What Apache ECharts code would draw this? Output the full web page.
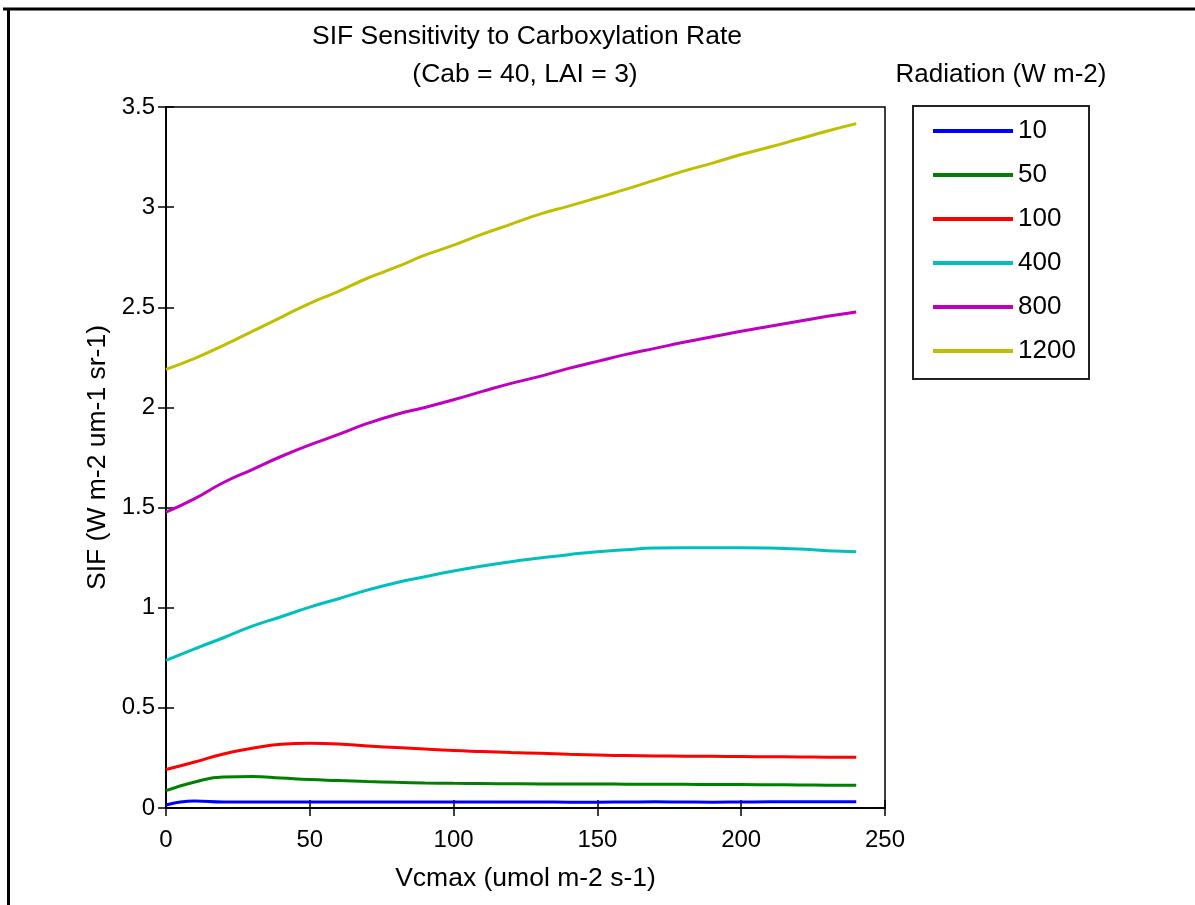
<!DOCTYPE html>
<html>
<head>
<meta charset="utf-8">
<script src="https://cdn.jsdelivr.net/npm/echarts@6/dist/echarts.min.js"></script>
<style>html,body{margin:0;padding:0;background:#fff;}#c{width:1195px;height:905px;}</style>
</head>
<body>
<div id="c"></div>
<script>
var vcmax = [0,10,20,30,40,50,60,70,80,90,100,110,120,130,140,150,160,170,180,190,200,210,220,230,240];
var rad10   = [0.015,0.035,0.03,0.03,0.03,0.03,0.03,0.03,0.03,0.03,0.03,0.03,0.03,0.03,0.029,0.029,0.03,0.031,0.03,0.029,0.03,0.031,0.031,0.031,0.031];
var rad50   = [0.087,0.13,0.155,0.157,0.15,0.142,0.137,0.132,0.128,0.125,0.123,0.122,0.121,0.12,0.12,0.12,0.119,0.118,0.118,0.117,0.117,0.116,0.115,0.114,0.113];
var rad100  = [0.192,0.23,0.27,0.298,0.318,0.323,0.32,0.31,0.302,0.294,0.287,0.282,0.277,0.273,0.268,0.264,0.262,0.26,0.259,0.258,0.257,0.256,0.255,0.254,0.253];
var rad400  = [0.737,0.795,0.85,0.908,0.955,1.003,1.045,1.088,1.125,1.155,1.183,1.208,1.23,1.248,1.265,1.28,1.29,1.298,1.3,1.3,1.3,1.298,1.293,1.285,1.28];
var rad800  = [1.477,1.545,1.625,1.69,1.755,1.813,1.865,1.92,1.965,2.0,2.038,2.08,2.12,2.155,2.195,2.23,2.265,2.295,2.325,2.353,2.38,2.405,2.43,2.455,2.477];
var rad1200 = [2.19,2.245,2.31,2.38,2.45,2.52,2.58,2.645,2.7,2.76,2.81,2.865,2.915,2.965,3.005,3.047,3.09,3.135,3.18,3.22,3.263,3.3,3.34,3.38,3.417];
var seriesNames = ['10','50','100','400','800','1200'];
var seriesData = [rad10, rad50, rad100, rad400, rad800, rad1200];
var colors = ['#0000ff','#008000','#ff0000','#00bfbf','#bf00bf','#bfbf00'];
var xTicks = {min:0, max:250, interval:50};
var yTicks = {min:0, max:3.5, interval:0.5};

var FONT = 'Liberation Sans';
var chart = echarts.init(document.getElementById('c'));
function pairs(d){ return vcmax.map(function(v,i){ return [v, d[i]]; }); }
var series = seriesNames.map(function(n,i){
  return {name:n, type:'line', data:pairs(seriesData[i]), showSymbol:false, smooth:true,
    lineStyle:{color:colors[i], width:3}, itemStyle:{color:colors[i]}, z:3};
});
var tickStyle = {show:true, inside:true, length:8, lineStyle:{color:'#000', width:1.5}};
var tStyle = {fontFamily:FONT, fontSize:26.5, fontWeight:'normal', color:'#000'};
chart.setOption({
  animation:false,
  backgroundColor:'#fff',
  color:colors,
  title:[
    {text:'SIF Sensitivity to Carboxylation Rate', left:522, top:18, textAlign:'center', textStyle:tStyle},
    {text:'(Cab = 40, LAI = 3)', left:520, top:56, textAlign:'center', textStyle:tStyle},
    {text:'Radiation (W m-2)', left:996, top:57, textAlign:'center', textStyle:{fontFamily:FONT, fontSize:26, fontWeight:'normal', color:'#000'}}
  ],
  legend:{
    orient:'vertical', left:928, top:113, itemWidth:80, itemHeight:4, itemGap:18,
    icon:'rect', data:seriesNames,
    textStyle:{fontFamily:FONT, fontSize:26, color:'#000', padding:[0,0,0,0]}
  },
  graphic:[
    {type:'rect', shape:{x:913, y:106, width:176, height:273}, style:{fill:null, stroke:'#222', lineWidth:2}, z:1},
    {type:'line', shape:{x1:3, y1:9, x2:1195, y2:9}, style:{stroke:'#000', lineWidth:3}},
    {type:'line', shape:{x1:8.5, y1:9, x2:8.5, y2:905}, style:{stroke:'#000', lineWidth:3}}
  ],
  grid:{left:166, right:310, top:107, bottom:97, show:true, borderColor:'#000', borderWidth:1.5, backgroundColor:'#fff'},
  xAxis:[
    {type:'value', min:xTicks.min, max:xTicks.max, interval:xTicks.interval, position:'bottom',
     name:'Vcmax (umol m-2 s-1)', nameLocation:'middle', nameGap:57,
     nameTextStyle:tStyle,
     axisLine:{show:true, lineStyle:{color:'#000', width:1.5}}, axisTick:tickStyle,
     axisLabel:{fontFamily:FONT, fontSize:24, color:'#000', margin:20},
     splitLine:{show:false}},
    {type:'value', min:xTicks.min, max:xTicks.max, interval:xTicks.interval, position:'top',
     axisLine:{show:true, lineStyle:{color:'#000', width:1.5}}, axisTick:tickStyle,
     axisLabel:{show:false}, splitLine:{show:false}}
  ],
  yAxis:[
    {type:'value', min:yTicks.min, max:yTicks.max, interval:yTicks.interval, position:'left',
     name:'SIF (W m-2 um-1 sr-1)', nameLocation:'middle', nameGap:54,
     nameTextStyle:tStyle,
     axisLine:{show:true, lineStyle:{color:'#000', width:1.5}}, axisTick:tickStyle,
     axisLabel:{fontFamily:FONT, fontSize:24, color:'#000', margin:11},
     splitLine:{show:false}},
    {type:'value', min:yTicks.min, max:yTicks.max, interval:yTicks.interval, position:'right',
     axisLine:{show:true, lineStyle:{color:'#000', width:1.5}}, axisTick:tickStyle,
     axisLabel:{show:false}, splitLine:{show:false}}
  ],
  series:series
});
</script>
</body>
</html>
